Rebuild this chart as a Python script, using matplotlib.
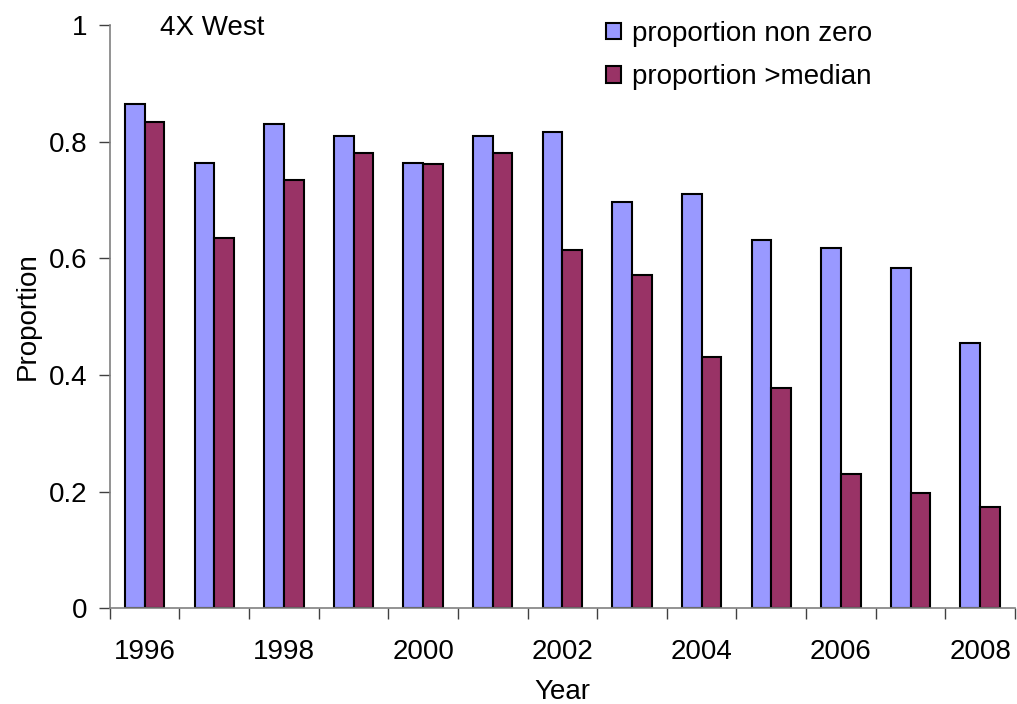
import numpy as np
import matplotlib.pyplot as plt
from matplotlib.ticker import FixedLocator, NullFormatter

plt.rcParams['font.family'] = ['Liberation Sans', 'DejaVu Sans']

# Proportion of sets by year, 4X West
years = [1996, 1997, 1998, 1999, 2000, 2001, 2002, 2003, 2004, 2005, 2006, 2007, 2008]
prop_non_zero = [0.865, 0.764, 0.831, 0.810, 0.764, 0.810, 0.816, 0.696, 0.710, 0.631, 0.617, 0.583, 0.454]
prop_above_median = [0.834, 0.635, 0.734, 0.780, 0.762, 0.780, 0.614, 0.571, 0.430, 0.377, 0.230, 0.198, 0.174]

fig = plt.figure(figsize=(10.17, 7.04), dpi=100)
ax = fig.add_axes([0.108, 0.136, 0.89, 0.8285])

x = np.arange(len(years))
w = 0.283
ax.bar(x - w / 2, prop_non_zero, width=w, color='#9999FF', edgecolor='black',
       linewidth=1.5, label='proportion non zero')
ax.bar(x + w / 2, prop_above_median, width=w, color='#993366', edgecolor='black',
       linewidth=1.5, label='proportion >median')

ax.set_xlim(-0.5, len(years) - 0.5)
ax.set_ylim(0, 1)
ax.set_yticks([0, 0.2, 0.4, 0.6, 0.8, 1])
ax.set_yticklabels(['0', '0.2', '0.4', '0.6', '0.8', '1'])

# tick marks between categories, labels on every other year
ax.xaxis.set_major_locator(FixedLocator(np.arange(len(years) + 1) - 0.5))
ax.xaxis.set_major_formatter(NullFormatter())
ax.set_xticks(x[::2], minor=True)
ax.set_xticklabels([str(y) for y in years[::2]], minor=True)
ax.tick_params(axis='x', which='major', length=8, width=1, color='#404040')
ax.tick_params(axis='x', which='minor', length=0, pad=22, labelsize=20)
ax.tick_params(axis='y', length=8, width=1, color='#404040', labelsize=20, pad=8)

for side in ['top', 'right']:
    ax.spines[side].set_visible(False)
for side in ['left', 'bottom']:
    ax.spines[side].set_color('#808080')
    ax.spines[side].set_linewidth(1.2)

ax.set_xlabel('Year', fontsize=20, labelpad=10)
ax.set_ylabel('Proportion', fontsize=20, labelpad=6)
ax.text(0.055, 0.995, '4X West', transform=ax.transAxes, fontsize=20, va='center')

ax.legend(loc='upper left', bbox_to_anchor=(0.52, 1.05), frameon=False, fontsize=20,
          handlelength=0.55, handleheight=0.55, handletextpad=0.4, labelspacing=0.62)

plt.savefig('out.png', dpi=100)
